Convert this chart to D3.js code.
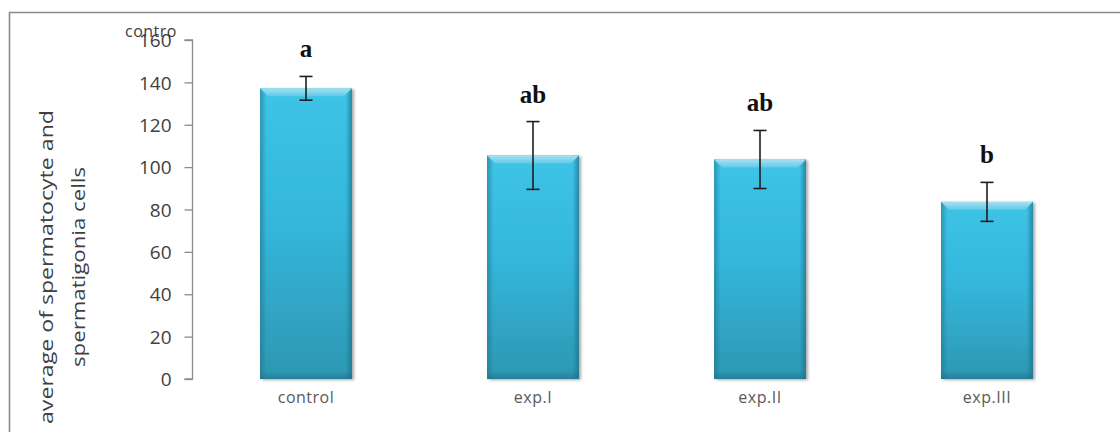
<!DOCTYPE html>
<html>
<head>
<meta charset="utf-8">
<script src="https://cdn.jsdelivr.net/npm/d3@7/dist/d3.min.js"></script>
<style>
  html, body { margin: 0; padding: 0; background: #fff; }
  svg { display: block; }
</style>
</head>
<body>
<svg id="chart" width="1120" height="432"></svg>
<script>
// ---- data ----
const categories = ["control", "exp.I", "exp.II", "exp.III"];
const means      = [137.2, 105.5, 103.6, 83.6];
const errors     = [5.6, 16.0, 13.7, 9.2];
const letters    = ["a", "ab", "ab", "b"];
const yTicks     = [0, 20, 40, 60, 80, 100, 120, 140, 160];
const yLabelLines = ["average of spermatocyte  and", "spermatigonia cells"];

const svg = d3.select("#chart");
const W = 1120, H = 432;

// frame
svg.append("line").attr("x1", 9).attr("x2", W).attr("y1", 12.5).attr("y2", 12.5)
  .attr("stroke", "#8a8a8a").attr("stroke-width", 1.6);
svg.append("line").attr("x1", 9.5).attr("x2", 9.5).attr("y1", 12).attr("y2", H)
  .attr("stroke", "#8a8a8a").attr("stroke-width", 1.6);

const x = d3.scaleBand().domain(categories).range([192.5, 1100.5])
  .paddingInner(0.595).paddingOuter(0.2975);
const y = d3.scaleLinear().domain([0, 160]).range([379, 40]);

// gradients
const defs = svg.append("defs");
const gv = defs.append("linearGradient").attr("id", "gv").attr("x1", 0).attr("x2", 0).attr("y1", 0).attr("y2", 1);
gv.append("stop").attr("offset", "0%").attr("stop-color", "#3dc4e7");
gv.append("stop").attr("offset", "45%").attr("stop-color", "#34b7dc");
gv.append("stop").attr("offset", "100%").attr("stop-color", "#2d97b2");
const gh = defs.append("linearGradient").attr("id", "gh").attr("x1", 0).attr("x2", 1).attr("y1", 0).attr("y2", 0);
gh.append("stop").attr("offset", "0%").attr("stop-color", "#1d6f86").attr("stop-opacity", 0.55);
gh.append("stop").attr("offset", "7%").attr("stop-color", "#1d6f86").attr("stop-opacity", 0.0);
gh.append("stop").attr("offset", "93%").attr("stop-color", "#1d6f86").attr("stop-opacity", 0.0);
gh.append("stop").attr("offset", "100%").attr("stop-color", "#1d6f86").attr("stop-opacity", 0.7);
const gt = defs.append("linearGradient").attr("id", "gt").attr("x1", 0).attr("x2", 0).attr("y1", 0).attr("y2", 1);
gt.append("stop").attr("offset", "0%").attr("stop-color", "#a6e0f0");
gt.append("stop").attr("offset", "100%").attr("stop-color", "#5fcbe9");
const gb = defs.append("linearGradient").attr("id", "gb").attr("x1", 0).attr("x2", 0).attr("y1", 0).attr("y2", 1);
gb.append("stop").attr("offset", "0%").attr("stop-color", "#1d6f86").attr("stop-opacity", 0);
gb.append("stop").attr("offset", "100%").attr("stop-color", "#1d6f86").attr("stop-opacity", 0.6);
const sh = defs.append("filter").attr("id", "sh").attr("x", "-10%").attr("y", "-10%").attr("width", "130%").attr("height", "120%");
sh.append("feGaussianBlur").attr("in", "SourceAlpha").attr("stdDeviation", 1.5).attr("result", "b");
sh.append("feOffset").attr("in", "b").attr("dx", 1.5).attr("dy", 1).attr("result", "o");
sh.append("feComponentTransfer").attr("in", "o").attr("result", "o2")
  .append("feFuncA").attr("type", "linear").attr("slope", 0.35);
const m = sh.append("feMerge");
m.append("feMergeNode").attr("in", "o2");
m.append("feMergeNode").attr("in", "SourceGraphic");

// bars
const bw = x.bandwidth();
const g = svg.append("g").selectAll("g").data(categories).join("g");
g.append("rect")
  .attr("x", d => x(d)).attr("width", bw)
  .attr("y", (d, i) => y(means[i])).attr("height", (d, i) => y(0) - y(means[i]))
  .attr("fill", "url(#gv)").attr("filter", "url(#sh)");
g.append("rect")
  .attr("x", d => x(d)).attr("width", bw)
  .attr("y", (d, i) => y(means[i])).attr("height", (d, i) => y(0) - y(means[i]))
  .attr("fill", "url(#gh)");
g.append("rect")
  .attr("x", d => x(d)).attr("width", bw)
  .attr("y", y(0) - 8).attr("height", 8)
  .attr("fill", "url(#gb)");
const bev = 8;
g.append("path")
  .attr("d", (d, i) => {
    const x0 = x(d), x1 = x(d) + bw, t = y(means[i]);
    return `M${x0},${t}L${x1},${t}L${x1 - bev},${t + bev}L${x0 + bev},${t + bev}Z`;
  })
  .attr("fill", "url(#gt)");

// error bars
const eb = svg.append("g").attr("stroke", "#1e1e1e").attr("stroke-width", 1.6);
categories.forEach((c, i) => {
  const cx = x(c) + bw / 2;
  eb.append("line").attr("x1", cx).attr("x2", cx).attr("y1", y(means[i] + errors[i])).attr("y2", y(means[i] - errors[i]));
  eb.append("line").attr("x1", cx - 6.5).attr("x2", cx + 6.5).attr("y1", y(means[i] + errors[i])).attr("y2", y(means[i] + errors[i]));
  eb.append("line").attr("x1", cx - 6.5).attr("x2", cx + 6.5).attr("y1", y(means[i] - errors[i])).attr("y2", y(means[i] - errors[i]));
});

// significance letters
svg.append("g").selectAll("text").data(categories).join("text")
  .attr("x", d => x(d) + bw / 2)
  .attr("y", (d, i) => y(means[i] + errors[i]) - 19)
  .attr("text-anchor", "middle")
  .attr("font-family", "Liberation Serif, serif")
  .attr("font-weight", "bold")
  .attr("font-size", 25)
  .attr("fill", "#111")
  .text((d, i) => letters[i]);

// y axis
const yAxis = svg.append("g").attr("transform", "translate(192.5,0)")
  .call(d3.axisLeft(y).tickValues(yTicks).tickSize(8).tickPadding(13));
yAxis.select(".domain").attr("stroke", "#8c8c8c").attr("stroke-width", 1.3)
  .attr("d", `M-8,${y(160)}H0V${y(0)}H-8`);
yAxis.selectAll(".tick line").attr("stroke", "#8c8c8c").attr("stroke-width", 1.3);
yAxis.selectAll(".tick text")
  .attr("font-family", "Open Sans, sans-serif").attr("font-size", 19).attr("fill", "#404040")
  .attr("dy", "0.35em");

// x labels
svg.append("g").selectAll("text").data(categories).join("text")
  .attr("x", d => x(d) + bw / 2).attr("y", 403)
  .attr("text-anchor", "middle")
  .attr("font-family", "Open Sans, sans-serif").attr("font-size", 16).attr("fill", "#595959")
  .attr("letter-spacing", 0.5)
  .text(d => d);

// stray clipped label at top (as in the reference, it overlaps the top tick)
svg.append("text").attr("x", 125).attr("y", 37)
  .attr("font-family", "Open Sans, sans-serif").attr("font-size", 16).attr("fill", "#404040")
  .attr("letter-spacing", 0.5)
  .text("contro");

// y axis title
const yt = svg.append("text").attr("transform", "translate(0,267) rotate(-90)")
  .attr("text-anchor", "middle")
  .attr("font-family", "Open Sans, sans-serif").attr("font-size", 19).attr("fill", "#404040");
yt.append("tspan").attr("x", 0).attr("y", 53)
  .attr("textLength", 314).attr("lengthAdjust", "spacingAndGlyphs").text(yLabelLines[0]);
yt.append("tspan").attr("x", 0).attr("y", 85)
  .attr("textLength", 200).attr("lengthAdjust", "spacingAndGlyphs").text(yLabelLines[1]);
</script>
</body>
</html>
